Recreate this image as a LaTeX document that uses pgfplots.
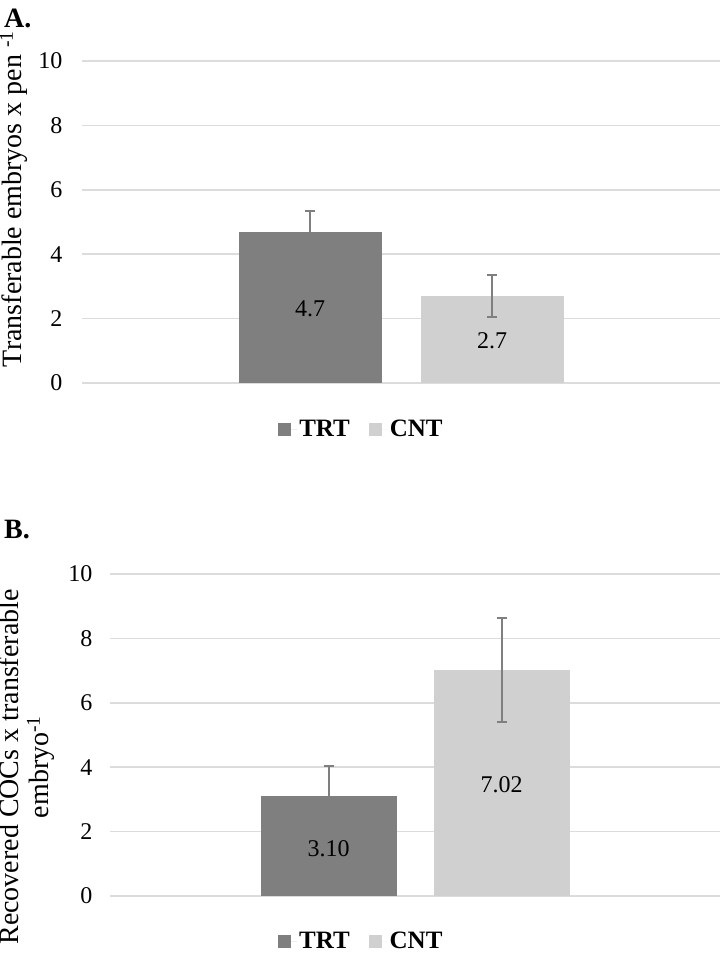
\documentclass[border=0pt]{standalone}
\usepackage{fontspec}
\setmainfont{Liberation Serif}
\usepackage{pgfplots}
\pgfplotsset{compat=1.18}
\definecolor{trtgray}{RGB}{127,127,127}
\definecolor{cntgray}{RGB}{208,208,208}
\definecolor{gridgray}{RGB}{220,220,220}
\definecolor{errgray}{RGB}{127,127,127}

\pgfplotsset{
  embryo/.style={
    scale only axis, height=322pt,
    ymin=0, ymax=10, xmin=-0.5, xmax=0.5,
    ytick={0,2,...,10}, xtick=\empty,
    ymajorgrids, grid style={draw=gridgray, line width=1.6pt},
    axis line style={draw=none}, major tick length=0pt,
    /pgf/number format/assume math mode=true,
    yticklabel style={font=\fontsize{24}{28}\selectfont},
    error bars/y dir=both, error bars/y explicit,
    error bars/error bar style={line width=2pt, draw=errgray},
    error bars/error mark options={rotate=90, mark size=5pt, line width=2pt, draw=errgray},
    nodes near coords style={anchor=center, text=black, font=\fontsize{24}{28}\selectfont},
    legend columns=2,
    legend style={draw=none, fill=none, font=\bfseries\fontsize{25}{28}\selectfont,
      /tikz/every even column/.append style={column sep=17pt}},
  },
  sqlegend/.style={
    legend image code/.code={\path (0pt,0pt) -- (19pt,0pt);
      \fill[##1] (0pt,-6.5pt) rectangle (13pt,6.5pt);},
  },
}

\begin{document}
\begin{tikzpicture}
\useasboundingbox (0,0) rectangle (720pt,-959pt);

% panel A
\node[anchor=base west, inner sep=0, font=\bfseries\fontsize{28}{32}\selectfont] at (4pt,-27pt) {A.};
\begin{axis}[embryo, at={(82pt,-383pt)}, anchor=south west, width=638pt,
    ybar=39pt, bar width=143pt, sqlegend,
    yticklabel style={xshift=-16pt},
    legend style={at={(0.438,-0.143)}, anchor=center}]
\addplot[fill=trtgray, draw=none, nodes near coords={4.7},
    every node near coord/.append style={yshift=-77pt}]
    coordinates {(0,4.7) +- (0,0.65)};
\addplot[fill=cntgray, draw=none, nodes near coords={2.7},
    every node near coord/.append style={yshift=-45pt}]
    coordinates {(0,2.7) +- (0,0.65)};
\legend{TRT,CNT}
\end{axis}
\node[rotate=90, font=\fontsize{28}{30}\selectfont] at (14pt,-199pt)
    {Transferable embryos x pen \textsuperscript{-1}};

% panel B
\node[anchor=base west, inner sep=0, font=\bfseries\fontsize{28}{32}\selectfont] at (4pt,-538pt) {B.};
\begin{axis}[embryo, at={(110pt,-896pt)}, anchor=south west, width=610pt,
    ybar=37pt, bar width=136pt, sqlegend,
    yticklabel style={xshift=-14pt},
    legend style={at={(0.412,-0.140)}, anchor=center}]
\addplot[fill=trtgray, draw=none, nodes near coords={3.10},
    every node near coord/.append style={yshift=-52pt}]
    coordinates {(0,3.10) +- (0,0.93)};
\addplot[fill=cntgray, draw=none, nodes near coords={7.02},
    every node near coord/.append style={yshift=-115pt}]
    coordinates {(0,7.02) +- (0,1.62)};
\legend{TRT,CNT}
\end{axis}
\node[rotate=90, align=center, font=\fontsize{28}{30}\selectfont] at (27pt,-767pt)
    {Recovered COCs x transferable\\embryo\textsuperscript{-1}};
\end{tikzpicture}
\end{document}
